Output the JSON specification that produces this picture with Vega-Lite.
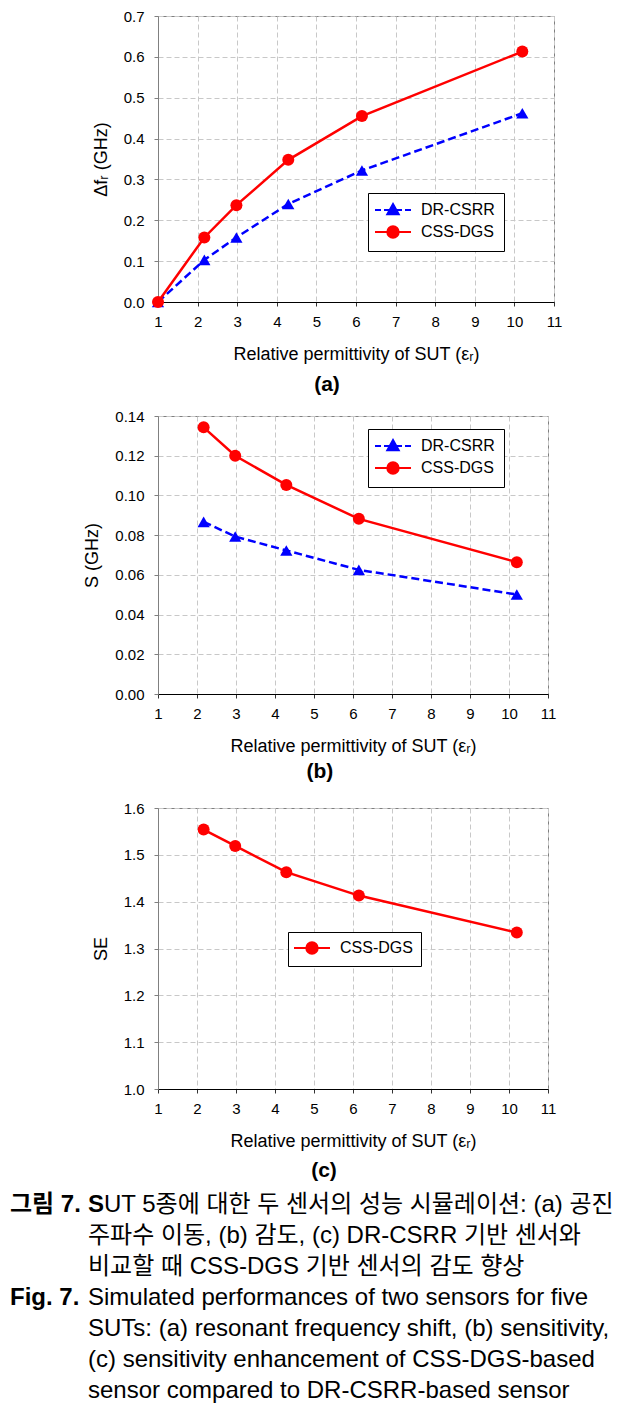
{
  "$schema": "https://vega.github.io/schema/vega-lite/v6.json",
  "background": "white",
  "padding": {"left": 10, "top": 8, "right": 5, "bottom": 5},
  "bounds": "flush",
  "spacing": 114,
  "resolve": {
    "scale": {"color": "independent"},
    "legend": {"color": "independent"}
  },
  "config": {
    "font": "Liberation Sans",
    "view": {"stroke": "#808080", "strokeWidth": 1},
    "axis": {
      "labelFontSize": 15, "labelColor": "#000", "labelFont": "Liberation Sans",
      "titleFontSize": 18, "titleFontWeight": "normal", "titleColor": "#000", "titleFont": "Liberation Sans",
      "gridColor": "#c8c8c8", "gridDash": [5, 3], "gridWidth": 1,
      "tickSize": 4, "labelFlush": false, "labelOverlap": false
    },
    "axisX": {"domainColor": "#000", "tickColor": "#333", "labelPadding": 8, "titlePadding": 16},
    "axisY": {"domainColor": "#808080", "tickColor": "#808080", "labelPadding": 10, "titlePadding": 13},
    "title": {"fontSize": 21, "fontWeight": "bold", "color": "#000", "font": "Liberation Sans"},
    "legend": {
      "title": null, "orient": "none", "strokeColor": "#000", "fillColor": "#fff",
      "labelFontSize": 16, "labelColor": "#000", "labelFont": "Liberation Sans",
      "symbolSize": 144, "symbolStrokeWidth": 2, "symbolOffset": 8, "labelOffset": 20, "rowPadding": 3
    }
  },
  "datasets": {
    "a": [
      {"er": 1, "v": 0, "s": "DR-CSRR"},
      {"er": 2.17, "v": 0.103, "s": "DR-CSRR"},
      {"er": 2.98, "v": 0.158, "s": "DR-CSRR"},
      {"er": 4.29, "v": 0.240, "s": "DR-CSRR"},
      {"er": 6.15, "v": 0.322, "s": "DR-CSRR"},
      {"er": 10.2, "v": 0.462, "s": "DR-CSRR"},
      {"er": 1, "v": 0, "s": "CSS-DGS"},
      {"er": 2.17, "v": 0.158, "s": "CSS-DGS"},
      {"er": 2.98, "v": 0.237, "s": "CSS-DGS"},
      {"er": 4.29, "v": 0.348, "s": "CSS-DGS"},
      {"er": 6.15, "v": 0.455, "s": "CSS-DGS"},
      {"er": 10.2, "v": 0.613, "s": "CSS-DGS"}
    ],
    "b": [
      {"er": 2.17, "v": 0.0867, "s": "DR-CSRR"},
      {"er": 2.98, "v": 0.0793, "s": "DR-CSRR"},
      {"er": 4.29, "v": 0.0723, "s": "DR-CSRR"},
      {"er": 6.15, "v": 0.0625, "s": "DR-CSRR"},
      {"er": 10.2, "v": 0.0501, "s": "DR-CSRR"},
      {"er": 2.17, "v": 0.1343, "s": "CSS-DGS"},
      {"er": 2.98, "v": 0.1200, "s": "CSS-DGS"},
      {"er": 4.29, "v": 0.1053, "s": "CSS-DGS"},
      {"er": 6.15, "v": 0.0882, "s": "CSS-DGS"},
      {"er": 10.2, "v": 0.0664, "s": "CSS-DGS"}
    ],
    "c": [
      {"er": 2.17, "v": 1.554, "s": "CSS-DGS"},
      {"er": 2.98, "v": 1.519, "s": "CSS-DGS"},
      {"er": 4.29, "v": 1.463, "s": "CSS-DGS"},
      {"er": 6.15, "v": 1.413, "s": "CSS-DGS"},
      {"er": 10.2, "v": 1.334, "s": "CSS-DGS"}
    ],
    "cap": [
      {"ln": 1, "col": "p", "t": "그림 7."},
      {"ln": 1, "col": "b", "t": "S"},
      {"ln": 1, "col": "b", "t": "UT 5종에 대한 두 센서의 성능 시뮬레이션: (a) 공진"},
      {"ln": 2, "col": "b", "t": "주파수 이동, (b) 감도, (c) DR-CSRR 기반 센서와"},
      {"ln": 3, "col": "b", "t": "비교할 때 CSS-DGS 기반 센서의 감도 향상"},
      {"ln": 4, "col": "p", "t": "Fig. 7."},
      {"ln": 4, "col": "b", "t": "Simulated performances of two sensors for five"},
      {"ln": 5, "col": "b", "t": "SUTs: (a) resonant frequency shift, (b) sensitivity,"},
      {"ln": 6, "col": "b", "t": "(c) sensitivity enhancement of CSS-DGS-based"},
      {"ln": 7, "col": "b", "t": "sensor compared to DR-CSRR-based sensor"}
    ]
  },
  "vconcat": [
    {
      "width": 396, "height": 286,
      "title": {"text": "(a)", "orient": "bottom", "anchor": "middle", "frame": "bounds", "offset": 11},
      "data": {"name": "a"},
      "encoding": {
        "x": {"field": "er", "type": "quantitative", "scale": {"domain": [1, 11]}, "axis": {"values": [1,2,3,4,5,6,7,8,9,10,11], "format": "d", "title": "Relative permittivity of SUT (εᵣ)"}},
        "y": {"field": "v", "type": "quantitative", "scale": {"domain": [0, 0.7]}, "axis": {"values": [0,0.1,0.2,0.3,0.4,0.5,0.6,0.7], "format": ".1f", "title": "Δfᵣ (GHz)"}}
      },
      "layer": [
        {
          "transform": [{"filter": "datum.s === 'DR-CSRR'"}],
          "mark": {"type": "line", "strokeWidth": 2.5, "color": "#0000ff", "strokeDash": [8, 4]}
        },
        {
          "transform": [{"filter": "datum.s === 'CSS-DGS'"}],
          "mark": {"type": "line", "strokeWidth": 2.5, "color": "#ff0000"}
        },
        {
          "transform": [{"filter": "datum.s === 'DR-CSRR'"}],
          "mark": {"type": "point", "filled": true, "opacity": 1, "shape": "triangle-up", "size": 150},
          "encoding": {
            "color": {"field": "s", "type": "nominal", "scale": {"domain": ["DR-CSRR", "CSS-DGS"], "range": ["#0000ff", "#ff0000"]},
              "legend": {
                "legendX": 210, "legendY": 177, "padding": 9,
                "encoding": {"symbols": {
                  "shape": {"value": {"expr": "datum.value === 'DR-CSRR' ? 'M-3,0H-2M-1.5,0H-0.6M0.6,0H1.5M2,0H3M0,-1L0.95,0.7L-0.95,0.7Z' : 'M-3,0H3M-0.95,0A0.95,0.95,0,1,1,0.95,0A0.95,0.95,0,1,1,-0.95,0Z'"}},
                  "stroke": {"value": {"expr": "datum.value === 'DR-CSRR' ? '#0000ff' : '#ff0000'"}},
                  "strokeWidth": {"value": 2},
                  "opacity": {"value": 1}
                }}
              }
            }
          }
        },
        {
          "transform": [{"filter": "datum.s === 'CSS-DGS'"}],
          "mark": {"type": "point", "filled": true, "opacity": 1, "shape": "circle", "size": 144},
          "encoding": {
            "color": {"field": "s", "type": "nominal", "scale": {"domain": ["DR-CSRR", "CSS-DGS"], "range": ["#0000ff", "#ff0000"]},
              "legend": {
                "legendX": 210, "legendY": 177, "padding": 9,
                "encoding": {"symbols": {
                  "shape": {"value": {"expr": "datum.value === 'DR-CSRR' ? 'M-3,0H-2M-1.5,0H-0.6M0.6,0H1.5M2,0H3M0,-1L0.95,0.7L-0.95,0.7Z' : 'M-3,0H3M-0.95,0A0.95,0.95,0,1,1,0.95,0A0.95,0.95,0,1,1,-0.95,0Z'"}},
                  "stroke": {"value": {"expr": "datum.value === 'DR-CSRR' ? '#0000ff' : '#ff0000'"}},
                  "strokeWidth": {"value": 2},
                  "opacity": {"value": 1}
                }}
              }
            }
          }
        }
      ]
    },
    {
      "width": 390, "height": 278,
      "title": {"text": "(b)", "orient": "bottom", "anchor": "middle", "frame": "bounds", "offset": 6},
      "data": {"name": "b"},
      "encoding": {
        "x": {"field": "er", "type": "quantitative", "scale": {"domain": [1, 11]}, "axis": {"values": [1,2,3,4,5,6,7,8,9,10,11], "format": "d", "title": "Relative permittivity of SUT (εᵣ)"}},
        "y": {"field": "v", "type": "quantitative", "scale": {"domain": [0, 0.14]}, "axis": {"values": [0,0.02,0.04,0.06,0.08,0.1,0.12,0.14], "format": ".2f", "title": "S (GHz)"}}
      },
      "layer": [
        {
          "transform": [{"filter": "datum.s === 'DR-CSRR'"}],
          "mark": {"type": "line", "strokeWidth": 2.5, "color": "#0000ff", "strokeDash": [8, 4]}
        },
        {
          "transform": [{"filter": "datum.s === 'CSS-DGS'"}],
          "mark": {"type": "line", "strokeWidth": 2.5, "color": "#ff0000"}
        },
        {
          "transform": [{"filter": "datum.s === 'DR-CSRR'"}],
          "mark": {"type": "point", "filled": true, "opacity": 1, "shape": "triangle-up", "size": 150},
          "encoding": {
            "color": {"field": "s", "type": "nominal", "scale": {"domain": ["DR-CSRR", "CSS-DGS"], "range": ["#0000ff", "#ff0000"]},
              "legend": {
                "legendX": 210, "legendY": 13, "padding": 9,
                "encoding": {"symbols": {
                  "shape": {"value": {"expr": "datum.value === 'DR-CSRR' ? 'M-3,0H-2M-1.5,0H-0.6M0.6,0H1.5M2,0H3M0,-1L0.95,0.7L-0.95,0.7Z' : 'M-3,0H3M-0.95,0A0.95,0.95,0,1,1,0.95,0A0.95,0.95,0,1,1,-0.95,0Z'"}},
                  "stroke": {"value": {"expr": "datum.value === 'DR-CSRR' ? '#0000ff' : '#ff0000'"}},
                  "strokeWidth": {"value": 2},
                  "opacity": {"value": 1}
                }}
              }
            }
          }
        },
        {
          "transform": [{"filter": "datum.s === 'CSS-DGS'"}],
          "mark": {"type": "point", "filled": true, "opacity": 1, "shape": "circle", "size": 144},
          "encoding": {
            "color": {"field": "s", "type": "nominal", "scale": {"domain": ["DR-CSRR", "CSS-DGS"], "range": ["#0000ff", "#ff0000"]},
              "legend": {
                "legendX": 210, "legendY": 13, "padding": 9,
                "encoding": {"symbols": {
                  "shape": {"value": {"expr": "datum.value === 'DR-CSRR' ? 'M-3,0H-2M-1.5,0H-0.6M0.6,0H1.5M2,0H3M0,-1L0.95,0.7L-0.95,0.7Z' : 'M-3,0H3M-0.95,0A0.95,0.95,0,1,1,0.95,0A0.95,0.95,0,1,1,-0.95,0Z'"}},
                  "stroke": {"value": {"expr": "datum.value === 'DR-CSRR' ? '#0000ff' : '#ff0000'"}},
                  "strokeWidth": {"value": 2},
                  "opacity": {"value": 1}
                }}
              }
            }
          }
        }
      ]
    },
    {
      "width": 390, "height": 281,
      "title": {"text": "(c)", "orient": "bottom", "anchor": "middle", "frame": "bounds", "offset": 10},
      "data": {"name": "c"},
      "encoding": {
        "x": {"field": "er", "type": "quantitative", "scale": {"domain": [1, 11]}, "axis": {"values": [1,2,3,4,5,6,7,8,9,10,11], "format": "d", "title": "Relative permittivity of SUT (εᵣ)"}},
        "y": {"field": "v", "type": "quantitative", "scale": {"domain": [1, 1.6], "zero": false}, "axis": {"values": [1,1.1,1.2,1.3,1.4,1.5,1.6], "format": ".1f", "title": "SE"}}
      },
      "layer": [
        {
          "mark": {"type": "line", "strokeWidth": 2.5, "color": "#ff0000"}
        },
        {
          "mark": {"type": "point", "filled": true, "opacity": 1, "shape": "circle", "size": 144},
          "encoding": {
            "color": {"field": "s", "type": "nominal", "scale": {"domain": ["CSS-DGS"], "range": ["#ff0000"]},
              "legend": {
                "legendX": 130, "legendY": 124, "padding": 8,
                "encoding": {"symbols": {
                  "shape": {"value": "M-3,0H3M-0.95,0A0.95,0.95,0,1,1,0.95,0A0.95,0.95,0,1,1,-0.95,0Z"},
                  "stroke": {"value": "#ff0000"},
                  "strokeWidth": {"value": 2},
                  "opacity": {"value": 1}
                }}
              }
            }
          }
        }
      ]
    },
    {
      "width": 396, "height": 184,
      "view": {"stroke": null},
      "data": {"name": "cap"},
      "encoding": {
        "x": {"field": "col", "type": "ordinal", "scale": {"type": "point", "domain": ["p", "b"], "range": [-148, -70], "padding": 0}, "axis": null},
        "y": {"field": "ln", "type": "ordinal", "scale": {"type": "point", "domain": [1, 2, 3, 4, 5, 6, 7], "range": [2, 188], "padding": 0}, "axis": null},
        "text": {"field": "t"}
      },
      "layer": [
        {
          "transform": [{"filter": "datum.col === 'p' || datum.t === 'S'"}],
          "mark": {"type": "text", "align": "left", "baseline": "middle", "fontSize": 24, "fontWeight": "bold", "font": "Liberation Sans, Noto Sans CJK KR", "color": "#000"}
        },
        {
          "transform": [{"filter": "datum.col === 'b' && datum.ln !== 1"}],
          "mark": {"type": "text", "align": "left", "baseline": "middle", "fontSize": 24, "font": "Liberation Sans, Noto Sans CJK KR", "color": "#000"}
        },
        {
          "transform": [{"filter": "datum.col === 'b' && datum.ln === 1 && datum.t !== 'S'"}],
          "mark": {"type": "text", "align": "left", "baseline": "middle", "fontSize": 24, "dx": 16, "font": "Liberation Sans, Noto Sans CJK KR", "color": "#000"}
        }
      ]
    }
  ]
}
